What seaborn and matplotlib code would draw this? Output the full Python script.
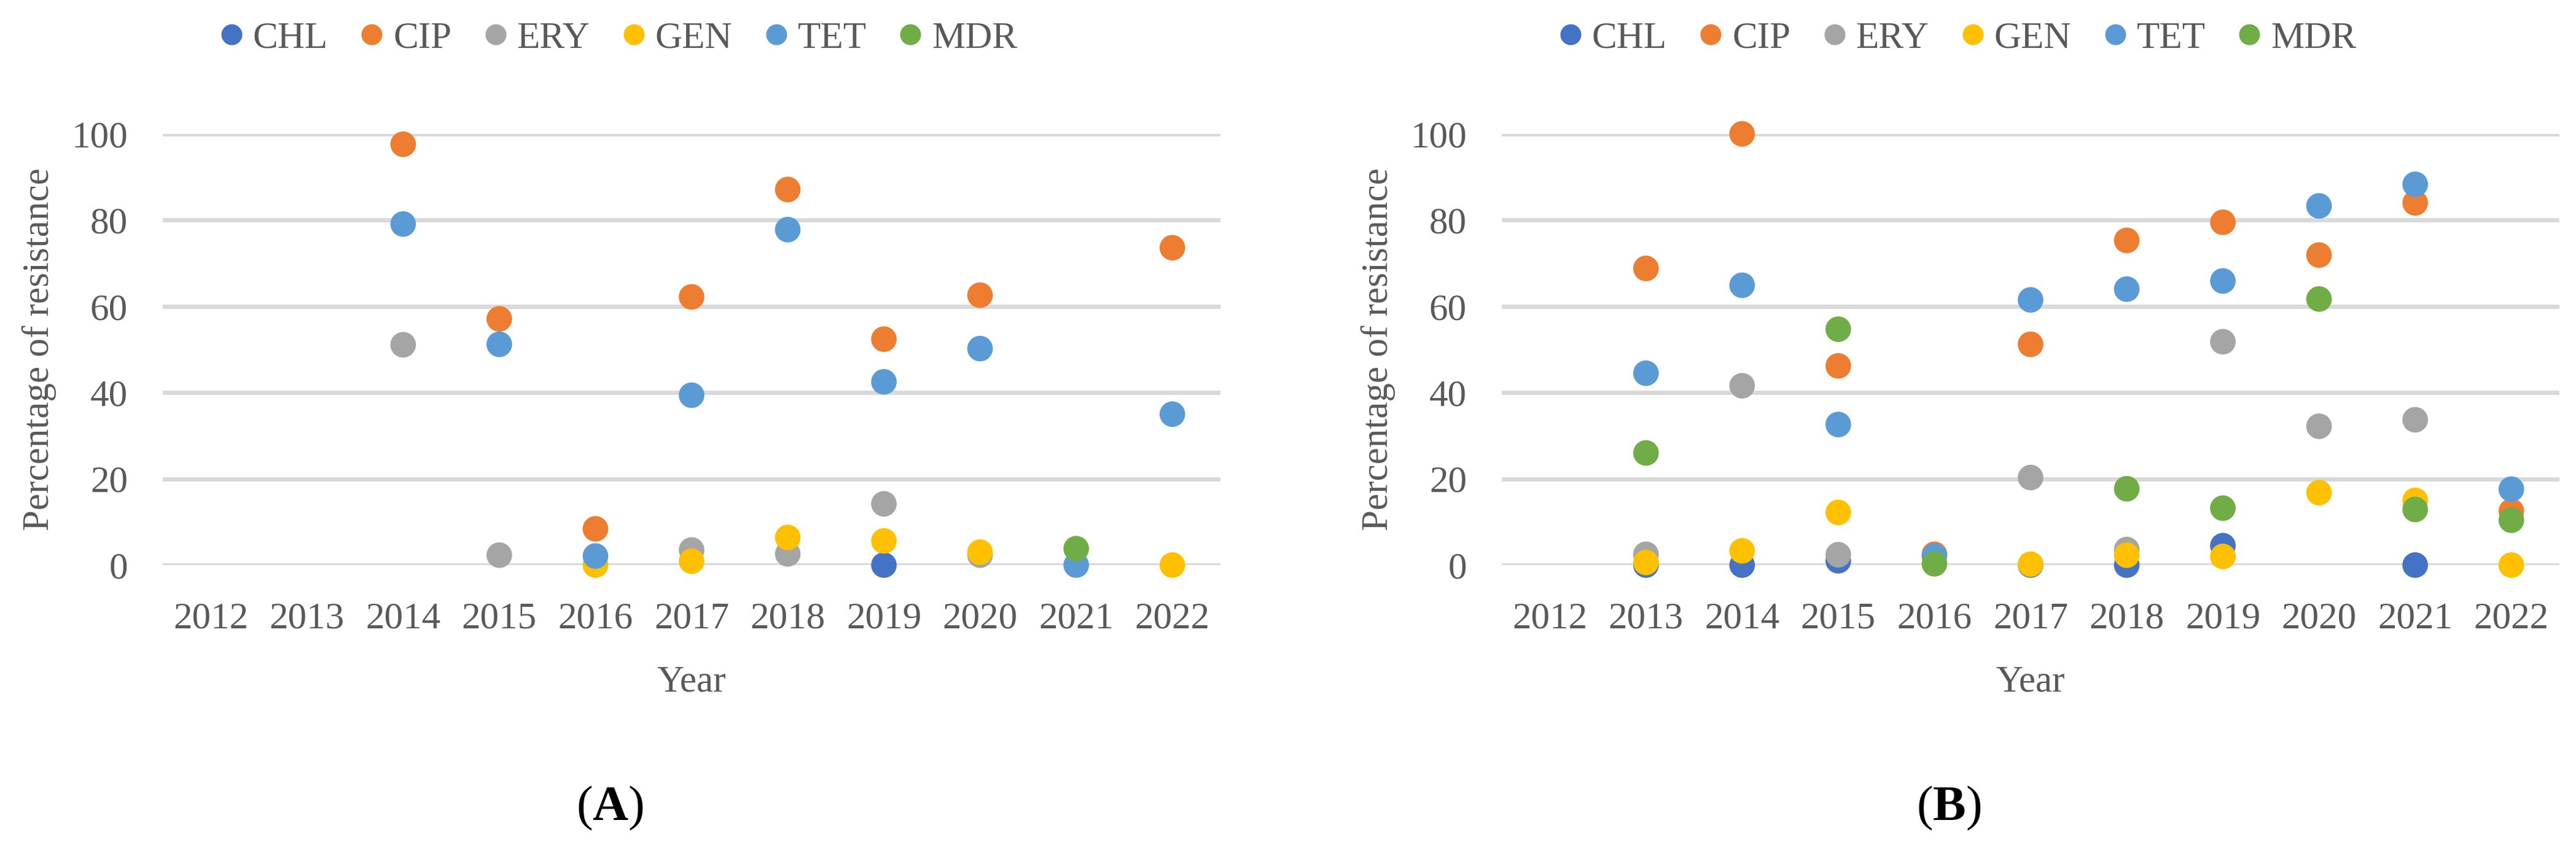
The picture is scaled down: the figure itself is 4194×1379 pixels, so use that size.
import numpy as np
import pandas as pd
import matplotlib
matplotlib.use("Agg")
import matplotlib.pyplot as plt
from matplotlib.lines import Line2D
import seaborn as sns

# Years on the x axis
years = ["2012", "2013", "2014", "2015", "2016", "2017", "2018", "2019", "2020", "2021", "2022"]
drugs = ["CHL", "CIP", "ERY", "GEN", "TET", "MDR"]
nan = np.nan

# Panel A values (% resistance), one list per antibiotic, NaN = no data
a_chl = [nan, nan, nan, nan, nan, nan, nan, 0.0, nan, nan, nan]
a_cip = [nan, nan, 97.6, 57.1, 8.4, 62.2, 87.1, 52.4, 62.6, nan, 73.6]
a_ery = [nan, nan, 51.1, 2.3, nan, 3.5, 2.6, 14.2, 2.3, nan, nan]
a_gen = [nan, nan, nan, nan, 0.0, 0.9, 6.4, 5.6, 3.0, nan, 0.0]
a_tet = [nan, nan, 79.1, 51.2, 2.1, 39.4, 77.8, 42.5, 50.2, 0.0, 35.0]
a_mdr = [nan, nan, nan, nan, nan, nan, nan, nan, nan, 3.8, nan]

# Panel B values
b_chl = [nan, 0.0, 0.0, 1.0, nan, 0.0, 0.0, 4.5, nan, 0.0, nan]
b_cip = [nan, 68.8, 100.0, 46.2, 2.5, 51.2, 75.3, 79.5, 71.9, 84.0, 12.5]
b_ery = [nan, 2.5, 41.6, 2.4, nan, 20.3, 3.6, 51.8, 32.2, 33.7, nan]
b_gen = [nan, 0.6, 3.3, 12.2, nan, 0.2, 2.3, 2.0, 16.8, 15.0, 0.0]
b_tet = [nan, 44.5, 64.9, 32.6, 2.1, 61.5, 64.0, 65.9, 83.3, 88.3, 17.6]
b_mdr = [nan, 26.0, nan, 54.7, 0.3, nan, 17.7, 13.2, 61.7, 12.9, 10.4]

colors = {"CHL": "#4472C4", "CIP": "#ED7D31", "ERY": "#A5A5A5",
          "GEN": "#FFC000", "TET": "#5B9BD5", "MDR": "#70AD47"}
text_color = "#595959"


def to_long(series):
    frames = []
    for drug, vals in zip(drugs, series):
        frames.append(pd.DataFrame({"Year": years, "Drug": drug, "Value": vals}))
    df = pd.concat(frames, ignore_index=True)
    return df.dropna()


df_a = to_long([a_chl, a_cip, a_ery, a_gen, a_tet, a_mdr])
df_b = to_long([b_chl, b_cip, b_ery, b_gen, b_tet, b_mdr])

sns.set_theme(style="white")
plt.rcParams["font.family"] = ["Liberation Serif", "DejaVu Serif"]
plt.rcParams["mathtext.fontset"] = "custom"
plt.rcParams["mathtext.rm"] = "Liberation Serif"
plt.rcParams["mathtext.bf"] = "Liberation Serif:bold"

W, H = 4194, 1379
fig = plt.figure(figsize=(W / 100, H / 100), dpi=100)
fig.patch.set_facecolor("white")

panels = [(df_a, 265, "(A)"), (df_b, 2445, "(B)")]
fs = 44

for df, left_px, tag in panels:
    ax = fig.add_axes([left_px / W, (H - 920) / H, 1722 / W, 702 / H])
    sns.stripplot(data=df, x="Year", y="Value", hue="Drug", order=years,
                  hue_order=drugs, palette=colors, jitter=False, dodge=False,
                  size=30, linewidth=0, legend=False, ax=ax, zorder=3)
    for c in ax.collections:
        c.set_clip_on(False)
    ax.set_ylim(0, 100)
    ax.set_xlim(-0.5, len(years) - 0.5)
    ax.set_yticks([0, 20, 40, 60, 80, 100])
    ax.set_axisbelow(True)
    ax.yaxis.grid(True, color="#D9D9D9", linewidth=5)
    ax.xaxis.grid(False)
    for s in ax.spines.values():
        s.set_visible(False)
    ax.tick_params(axis="y", length=0, pad=41, labelsize=fs, labelcolor=text_color)
    ax.tick_params(axis="x", length=0, pad=43, labelsize=fs, labelcolor=text_color)
    ax.set_xlabel("Year", fontsize=fs, color=text_color)
    ax.set_ylabel("Percentage of resistance", fontsize=fs, color=text_color)
    ax.xaxis.set_label_coords(0.5, -0.232)
    ax.yaxis.set_label_coords(-0.1006, 0.5)

    handles = [Line2D([], [], marker="o", linestyle="", markersize=24.5,
                      markerfacecolor=colors[d], markeredgewidth=0) for d in drugs]
    leg = ax.legend(handles, drugs, loc="center", bbox_to_anchor=(0.431, 1.221),
                    ncol=6, frameon=False, fontsize=fs, handlelength=0.6,
                    handletextpad=0.27, columnspacing=0.87, borderpad=0)
    for t in leg.get_texts():
        t.set_color(text_color)

    letter = tag[1]
    fig.text((left_px + 728) / W, 1 - 1316 / H, "($\\mathbf{" + letter + "}$)",
             fontsize=58, color="black", ha="center", va="center")

fig.savefig("out.png", dpi=100, facecolor="white")
